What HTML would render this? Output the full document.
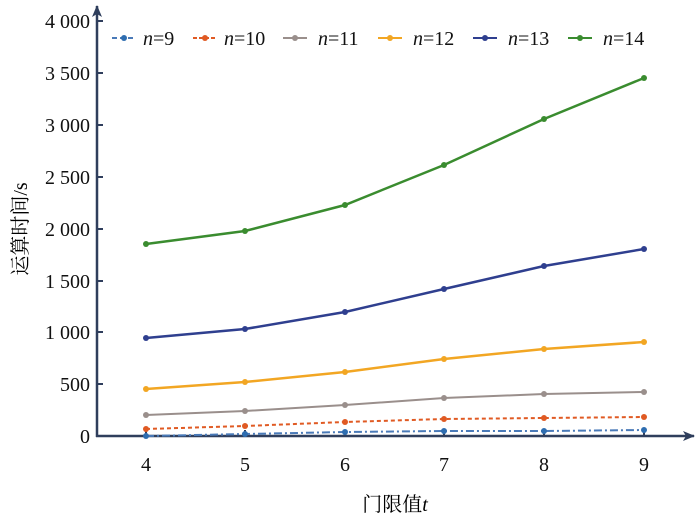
<!DOCTYPE html><html><head><style>body{margin:0;background:#fff}</style></head><body>
<svg width="700" height="518" xmlns="http://www.w3.org/2000/svg" font-family="Liberation Serif, serif" font-size="20">
<defs><marker id="a" markerUnits="userSpaceOnUse" markerWidth="14" markerHeight="14" refX="11" refY="7" orient="auto"><path d="M0,2 L12,7 L0,12 L3,7z" fill="#2f3e5c"/></marker></defs>
<line x1="97" y1="437" x2="97" y2="6" stroke="#2f3e5c" stroke-width="2.5" marker-end="url(#a)"/>
<line x1="96" y1="436" x2="694" y2="436" stroke="#2f3e5c" stroke-width="2.5" marker-end="url(#a)"/>
<g stroke="#2f3e5c" stroke-width="2">
<line x1="97" y1="21" x2="103" y2="21"/><line x1="97" y1="73" x2="103" y2="73"/><line x1="97" y1="125" x2="103" y2="125"/><line x1="97" y1="177" x2="103" y2="177"/><line x1="97" y1="229" x2="103" y2="229"/><line x1="97" y1="281" x2="103" y2="281"/><line x1="97" y1="332" x2="103" y2="332"/><line x1="97" y1="384" x2="103" y2="384"/>
<line x1="146" y1="436" x2="146" y2="430"/><line x1="245" y1="436" x2="245" y2="430"/><line x1="345" y1="436" x2="345" y2="430"/><line x1="444" y1="436" x2="444" y2="430"/><line x1="544" y1="436" x2="544" y2="430"/><line x1="644" y1="436" x2="644" y2="430"/>
</g>
<g text-anchor="end" fill="#111"><text x="90" y="28">4 000</text><text x="90" y="80">3 500</text><text x="90" y="132">3 000</text><text x="90" y="184">2 500</text><text x="90" y="236">2 000</text><text x="90" y="288">1 500</text><text x="90" y="339">1 000</text><text x="90" y="391">500</text><text x="90" y="443">0</text></g>
<g text-anchor="middle" fill="#111"><text x="146" y="471">4</text><text x="245" y="471">5</text><text x="345" y="471">6</text><text x="444" y="471">7</text><text x="544" y="471">8</text><text x="644" y="471">9</text></g>
<text x="395" y="511" text-anchor="middle" font-family="Liberation Serif, Noto Serif CJK SC, serif">门限值<tspan font-style="italic">t</tspan></text>
<text transform="translate(27,229) rotate(-90)" text-anchor="middle" font-family="Liberation Serif, Noto Serif CJK SC, serif">运算时间/s</text>
<g stroke-width="2" fill="none">
<polyline stroke="#4a7ab8" stroke-dasharray="8,3,2,3" points="146,436 245,434 345,432 444,431 544,431 644,430"/>
<polyline stroke="#e05a23" stroke-dasharray="4,3" points="146,429 245,426 345,422 444,419 544,418 644,417"/>
<polyline stroke="#9a8f8c" points="146,415 245,411 345,405 444,398 544,394 644,392"/>
<polyline stroke="#f2a623" stroke-width="2.5" points="146,389 245,382 345,372 444,359 544,349 644,342"/>
<polyline stroke="#2f3f8f" stroke-width="2.5" points="146,338 245,329 345,312 444,289 544,266 644,249"/>
<polyline stroke="#3a8c2f" stroke-width="2.5" points="146,244 245,231 345,205 444,165 544,119 644,78"/>
</g>
<g fill="#2e6db0"><circle cx="146" cy="436" r="3"/><circle cx="245" cy="434" r="3"/><circle cx="345" cy="432" r="3"/><circle cx="444" cy="431" r="3"/><circle cx="544" cy="431" r="3"/><circle cx="644" cy="430" r="3"/></g>
<g fill="#e05a23"><circle cx="146" cy="429" r="3"/><circle cx="245" cy="426" r="3"/><circle cx="345" cy="422" r="3"/><circle cx="444" cy="419" r="3"/><circle cx="544" cy="418" r="3"/><circle cx="644" cy="417" r="3"/></g>
<g fill="#9a8f8c"><circle cx="146" cy="415" r="3"/><circle cx="245" cy="411" r="3"/><circle cx="345" cy="405" r="3"/><circle cx="444" cy="398" r="3"/><circle cx="544" cy="394" r="3"/><circle cx="644" cy="392" r="3"/></g>
<g fill="#f2a623"><circle cx="146" cy="389" r="3"/><circle cx="245" cy="382" r="3"/><circle cx="345" cy="372" r="3"/><circle cx="444" cy="359" r="3"/><circle cx="544" cy="349" r="3"/><circle cx="644" cy="342" r="3"/></g>
<g fill="#2f3f8f"><circle cx="146" cy="338" r="3"/><circle cx="245" cy="329" r="3"/><circle cx="345" cy="312" r="3"/><circle cx="444" cy="289" r="3"/><circle cx="544" cy="266" r="3"/><circle cx="644" cy="249" r="3"/></g>
<g fill="#3a8c2f"><circle cx="146" cy="244" r="3"/><circle cx="245" cy="231" r="3"/><circle cx="345" cy="205" r="3"/><circle cx="444" cy="165" r="3"/><circle cx="544" cy="119" r="3"/><circle cx="644" cy="78" r="3"/></g>
<g stroke-width="2">
<line x1="112" y1="38" x2="136" y2="38" stroke="#4a7ab8" stroke-dasharray="5,3"/><circle cx="124" cy="38" r="3" fill="#2e6db0"/>
<line x1="193" y1="38" x2="217" y2="38" stroke="#e05a23" stroke-dasharray="4,2"/><circle cx="205" cy="38" r="3" fill="#e05a23"/>
<line x1="283" y1="38" x2="307" y2="38" stroke="#9a8f8c"/><circle cx="295" cy="38" r="3" fill="#9a8f8c"/>
<line x1="378" y1="38" x2="402" y2="38" stroke="#f2a623"/><circle cx="390" cy="38" r="3" fill="#f2a623"/>
<line x1="473" y1="38" x2="497" y2="38" stroke="#2f3f8f"/><circle cx="485" cy="38" r="3" fill="#2f3f8f"/>
<line x1="568" y1="38" x2="592" y2="38" stroke="#3a8c2f"/><circle cx="580" cy="38" r="3" fill="#3a8c2f"/>
</g>
<g fill="#111"><text x="143" y="45"><tspan font-style="italic">n</tspan>=9</text><text x="224" y="45"><tspan font-style="italic">n</tspan>=10</text><text x="318" y="45"><tspan font-style="italic">n</tspan>=11</text><text x="413" y="45"><tspan font-style="italic">n</tspan>=12</text><text x="508" y="45"><tspan font-style="italic">n</tspan>=13</text><text x="603" y="45"><tspan font-style="italic">n</tspan>=14</text></g>
</svg></body></html>
